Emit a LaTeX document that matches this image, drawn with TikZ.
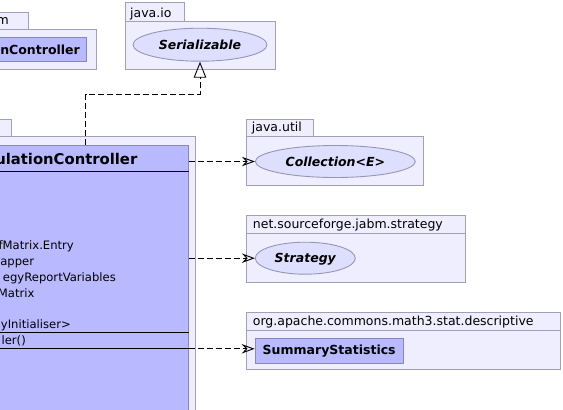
\documentclass[tikz,border=0pt]{standalone}
\usepackage{fontspec}
\setmainfont{DejaVu Sans}
\usetikzlibrary{shapes.geometric,arrows.meta}
\definecolor{pkgfill}{RGB}{238,238,255}
\definecolor{pkgline}{RGB}{160,160,185}
\definecolor{clsfill}{RGB}{185,185,255}
\definecolor{clsline}{RGB}{135,135,190}
\definecolor{ifcfill}{RGB}{222,222,255}
\definecolor{ifcline}{RGB}{150,150,180}
\begin{document}
\begin{tikzpicture}[x=1pt,y=-1pt,
  font=\fontsize{12.5}{15}\selectfont,
  pkg/.style={draw=pkgline, fill=pkgfill, line width=0.9pt},
  pkglabel/.style={anchor=base west, inner sep=0pt},
  cls/.style={rectangle, draw=clsline, fill=clsfill, line width=0.9pt, inner sep=0pt},
  clsname/.style={inner sep=0pt, font=\fontsize{12.5}{15}\selectfont\bfseries},
  member/.style={anchor=base east, inner sep=0pt, font=\fontsize{11.6}{14}\selectfont},
  ifc/.style={ellipse, draw=ifcline, fill=ifcfill, line width=0.9pt, inner sep=0pt,
    font=\fontsize{12.5}{15}\selectfont\bfseries\itshape, text height=9.4pt, text depth=0pt},
  divider/.style={black, line width=0.9pt},
  dep/.style={black, line width=0.9pt, dash pattern=on 6pt off 3pt,
    -{Stealth[open, length=13pt, width=9.5pt, inset=4.5pt]}},
  gen/.style={black, line width=0.9pt, dash pattern=on 6pt off 3pt,
    -{Triangle[open, length=16pt, width=12.5pt]}},
]
\useasboundingbox (0,0) rectangle (563,410);
\clip (0,0) rectangle (563,410);

% package holding the other controller class (top left)
\path[pkg] (-5,12) rectangle (28,29);
\path[pkg] (-5,29) rectangle (96,69);
\node[anchor=base east, inner sep=0pt] (pkgm) at (9,24) {m};
\node[cls, anchor=east, minimum width=110pt, minimum height=24pt] (nctrl) at (87,49) {};
\node[clsname, anchor=base east] (nctrlname) at (80,54.3) {nController};

% package java.io
\path[pkg] (125,2) rectangle (184,21);
\path[pkg] (125,21) rectangle (275,69);
\node[pkglabel] (javaio) at (130,17) {java.io};
\node[ifc, minimum width=134pt, minimum height=33pt] (ser) at (200,44.7) {Serializable};

% package java.util
\path[pkg] (246.7,119.3) rectangle (313,136);
\path[pkg] (246.7,136) rectangle (423,185);
\node[pkglabel] (javautil) at (251.7,131) {java.util};
\node[ifc, minimum width=160pt, minimum height=32pt] (coll) at (335.3,161.5) {Collection<E>};

% package net.sourceforge.jabm.strategy
\path[pkg] (246,215) rectangle (465.3,282.3);
\draw[pkgline, line width=0.9pt] (246,233.3) -- (465.3,233.3);
\node[pkglabel] (jabm) at (252.7,228.3) {net.sourceforge.jabm.strategy};
\node[ifc, minimum width=100pt, minimum height=32pt] (strat) at (305.3,258.2) {Strategy};

% package org.apache.commons.math3.stat.descriptive
\path[pkg] (246.7,312.3) rectangle (560.7,369);
\draw[pkgline, line width=0.9pt] (246.7,330.7) -- (560.7,330.7);
\node[pkglabel] (math3) at (252.7,325.7) {org.apache.commons.math3.stat.descriptive};
\node[cls, minimum width=148.3pt, minimum height=25pt] (sum) at (329.2,350.8) {};
\node[clsname, anchor=base] (sumname) at (sum.center |- 0,354.3) {SummaryStatistics};

% package holding the simulation controller
\path[pkg] (-5,119) rectangle (11.7,136);
\path[pkg] (-5,136) rectangle (195,430);
\node[cls, anchor=north east, minimum width=300pt, minimum height=300pt] (sim) at (188.7,145) {};
\node[clsname, anchor=base east, font=\fontsize{14.8}{17}\selectfont\bfseries] (simname) at (137.5,164) {ulationController};
\draw[divider] (sim.west |- 0,171) -- (sim.east |- 0,171);
\node[member] (m1) at (74,249) {fMatrix.Entry};
\node[member] (m2) at (34.3,265) {apper};
\node[member] (m3) at (116,281) {egyReportVariables};
\node[member] (m4) at (34.7,297) {Matrix};
\node[member] (m5) at (71,328.5) {yInitialiser>};
\draw[divider] (sim.west |- 0,332.3) -- (sim.east |- 0,332.3);
\node[member] (op1) at (26,344) {ler()};
\coordinate (opsend) at (0,348.8);
\draw[divider] (sim.west |- opsend) -- (sim.east |- opsend);

% relations
\draw[gen] (85.7,0 |- sim.north) -- (85.7,94.3) -| (ser.south);
\draw[dep] (sim.east |- coll.west) -- (coll.west);
\draw[dep] (sim.east |- strat.west) -- (strat.west);
\draw[dep] (sim.east |- opsend) -- (sum.west |- opsend);
\end{tikzpicture}
\end{document}
